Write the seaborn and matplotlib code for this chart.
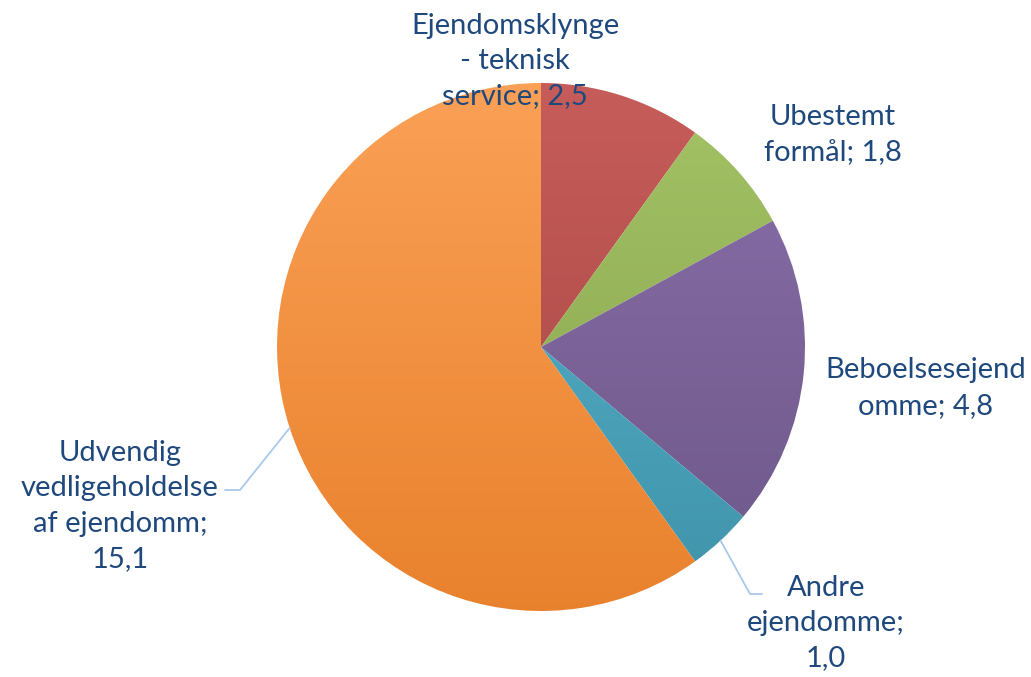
import colorsys
import numpy as np
import matplotlib
matplotlib.use("Agg")
import matplotlib.pyplot as plt
import matplotlib.colors as mcolors
import seaborn as sns

# data
names = ["Ejendomsklynge\n- teknisk\nservice", "Ubestemt\nformål", "Beboelsesejend\nomme",
         "Andre\nejendomme", "Udvendig\nvedligeholdelse\naf ejendomm"]
values = [2.5, 1.8, 4.8, 1.0, 15.1]
seps = [" ", " ", " ", "\n", "\n"]
colors = ["#C0504D", "#9BBB59", "#8064A2", "#4BACC6", "#F79646"]

sns.set_theme(style="white")
plt.rcParams['font.family'] = ['Lato', 'DejaVu Sans']

W, H = 1031, 677
fig = plt.figure(figsize=(W / 100, H / 100), dpi=100)
ax = fig.add_axes([0, 0, 1, 1])

cx, cy, r = 541, H - 347, 264
wedges, _ = ax.pie(values, startangle=90, counterclock=False, radius=r, center=(cx, cy),
                   colors=colors, frame=True, wedgeprops=dict(linewidth=0))
ax.set_xlim(0, W)
ax.set_ylim(0, H)
ax.set_aspect("equal")
ax.axis("off")


def shade(c, dl, sf):
    h, l, s = colorsys.rgb_to_hls(*mcolors.to_rgb(c))
    return np.array(colorsys.hls_to_rgb(h, min(max(l + dl, 0), 1), min(s * sf, 1)))


# vertical gradient fill per wedge (light top, darker bottom)
t = np.linspace(0, 1, 256)[:, None, None]
for w, c in zip(wedges, colors):
    light = shade(c, 0.038, 1.03)
    dark = shade(c, -0.078, 0.88)
    grad = light * (1 - t) + dark * t
    grad = np.repeat(grad, 2, axis=1)
    im = ax.imshow(np.clip(grad, 0, 1), extent=[cx - r, cx + r, cy - r, cy + r], origin="upper",
                   aspect="auto", zorder=1, interpolation="bilinear")
    im.set_clip_path(w)
    w.set_facecolor("none")
    w.set_zorder(2)
ax.set_xlim(0, W)
ax.set_ylim(0, H)

text_color = "#1F497D"
label_pos = [(515, 61), (833, 135), (926, 388), (826, 623), (120, 506)]
for i, (n, v, s) in enumerate(zip(names, values, seps)):
    txt = f"{n};{s}{v:.1f}".replace(".", ",")
    x, y = label_pos[i]
    ax.text(x, H - y, txt, ha="center", va="center", fontsize=21, color=text_color,
            linespacing=1.45, zorder=5)

# leader lines for small/far labels
line_color = "#A9C8EA"
leaders = {4: [(240, 490), (225, 490)], 3: [(750, 594), (762, 594)]}
for i, pts in leaders.items():
    w = wedges[i]
    ang = np.deg2rad((w.theta1 + w.theta2) / 2)
    sx, sy = cx + r * np.cos(ang), cy + r * np.sin(ang)
    xs = [sx] + [p[0] for p in pts]
    ys = [sy] + [H - p[1] for p in pts]
    ax.plot(xs, ys, color=line_color, lw=1.3, zorder=4)

fig.savefig("out.png", dpi=100, facecolor="white")
